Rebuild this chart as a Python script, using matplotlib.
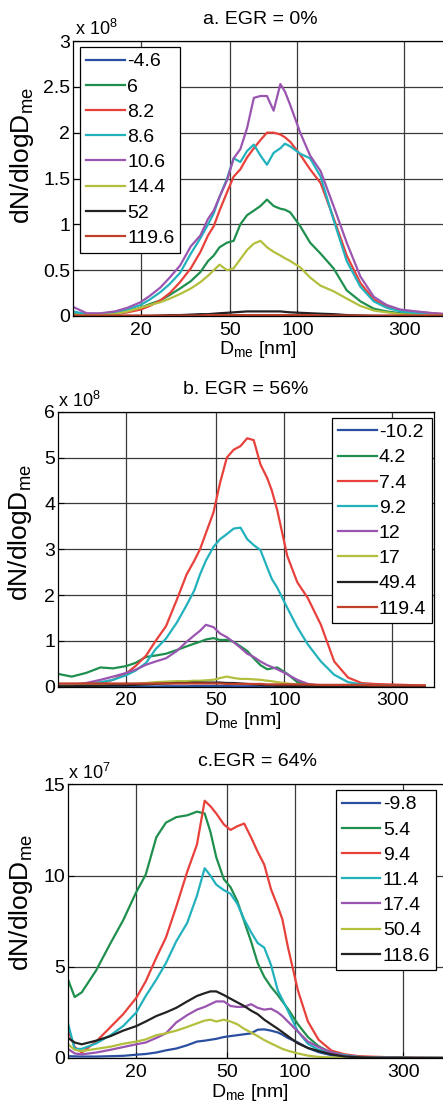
import matplotlib
matplotlib.use("Agg")
import matplotlib.pyplot as plt
from matplotlib.ticker import NullLocator

plt.rcParams['font.family'] = ['Liberation Sans', 'DejaVu Sans']
plt.rcParams['mathtext.default'] = 'regular'

# ---------------- data ----------------
diam_a = [10, 11.5, 13.3, 15.4, 17.5, 20, 22, 24.5, 27, 30, 33.5, 37, 40, 42.4, 45, 48.6, 52, 55.7,
          59.7, 64, 68.5, 73.2, 78.4, 84, 88, 93, 103, 114, 127, 145, 166, 191, 219, 250, 288, 340,
          405, 460]
labels_a = ['-4.6', '6', '8.2', '8.6', '10.6', '14.4', '52', '119.6']
a_m46 = [0.01, 0, 0, 0, 0, 0, 0, 0, 0, 0, 0, 0, 0, 0.005, 0.01, 0.01, 0.01, 0.01, 0.01, 0.01, 0.01,
         0.01, 0.01, 0.01, 0.01, 0.01, 0.01, 0.005, 0, 0, 0, 0, 0, 0, 0, 0, 0, 0]
a_6 = [0.02, 0.01, 0.01, 0.02, 0.05, 0.09, 0.13, 0.17, 0.23, 0.30, 0.38, 0.48, 0.60, 0.66, 0.75, 0.80,
       0.82, 1.00, 1.10, 1.15, 1.20, 1.27, 1.20, 1.17, 1.16, 1.13, 0.98, 0.80, 0.68, 0.52, 0.28, 0.16,
       0.08, 0.05, 0.03, 0.02, 0.01, 0.01]
a_82 = [0.01, 0.01, 0.01, 0.02, 0.04, 0.07, 0.11, 0.17, 0.25, 0.37, 0.52, 0.70, 0.88, 0.98, 1.15, 1.35,
        1.52, 1.60, 1.73, 1.83, 1.92, 2.00, 2.00, 1.98, 1.95, 1.90, 1.76, 1.60, 1.45, 1.07, 0.66, 0.36,
        0.18, 0.10, 0.06, 0.04, 0.03, 0.02]
a_86 = [0.05, 0.02, 0.02, 0.04, 0.07, 0.12, 0.18, 0.26, 0.35, 0.47, 0.68, 0.85, 1.00, 1.12, 1.30, 1.50,
        1.72, 1.68, 1.80, 1.87, 1.75, 1.65, 1.78, 1.83, 1.88, 1.85, 1.77, 1.72, 1.52, 1.05, 0.60, 0.32,
        0.16, 0.09, 0.05, 0.03, 0.02, 0.01]
a_106 = [0.10, 0.03, 0.03, 0.05, 0.09, 0.15, 0.22, 0.31, 0.42, 0.55, 0.76, 0.88, 1.06, 1.15, 1.30, 1.48,
         1.72, 1.82, 2.05, 2.38, 2.40, 2.40, 2.24, 2.53, 2.45, 2.30, 2.00, 1.75, 1.58, 1.20, 0.80, 0.43,
         0.21, 0.12, 0.07, 0.05, 0.03, 0.02]
a_144 = [0.01, 0.01, 0.01, 0.02, 0.05, 0.09, 0.12, 0.15, 0.19, 0.24, 0.30, 0.37, 0.44, 0.50, 0.56, 0.50,
         0.52, 0.62, 0.72, 0.79, 0.82, 0.75, 0.70, 0.66, 0.63, 0.60, 0.53, 0.42, 0.33, 0.27, 0.19, 0.11,
         0.06, 0.04, 0.02, 0.01, 0.01, 0.0]
a_52 = [0, 0, 0, 0, 0, 0, 0, 0.005, 0.01, 0.01, 0.015, 0.02, 0.02, 0.025, 0.03, 0.035, 0.04, 0.045,
        0.05, 0.05, 0.05, 0.05, 0.05, 0.05, 0.045, 0.04, 0.035, 0.03, 0.025, 0.02, 0.01, 0.005, 0, 0,
        0, 0, 0, 0]
a_1196 = [0.005, 0.005, 0.005, 0.005, 0.005, 0.005, 0.005, 0.005, 0.005, 0.005, 0.005, 0.005, 0.01,
          0.01, 0.01, 0.01, 0.01, 0.01, 0.01, 0.01, 0.01, 0.01, 0.01, 0.01, 0.01, 0.01, 0.01, 0.01,
          0.005, 0.005, 0.005, 0.005, 0.005, 0.005, 0.005, 0.005, 0.005, 0.005]

diam_b = [10, 11.5, 13.3, 15.4, 17.5, 20, 22, 24.5, 27, 30, 33.5, 37, 40, 42.4, 45, 48.6, 52, 55.7,
          59.7, 64, 68.5, 73.2, 78.4, 84, 88, 93, 103, 114, 127, 145, 166, 191, 219, 250, 288, 340, 417]
labels_b = ['-10.2', '4.2', '7.4', '9.2', '12', '17', '49.4', '119.4']
b_m102 = [0, 0, 0, 0, 0, 0, 0, 0.005, 0.005, 0.01, 0.01, 0.01, 0.015, 0.015, 0.015, 0.015, 0.015,
          0.015, 0.01, 0.01, 0.01, 0.01, 0.005, 0.005, 0, 0, 0, 0, 0, 0, 0, 0, 0, 0, 0, 0, 0]
b_42 = [0.28, 0.22, 0.30, 0.42, 0.40, 0.45, 0.52, 0.65, 0.68, 0.72, 0.80, 0.88, 0.94, 0.98, 1.03, 1.06,
        1.02, 1.02, 0.98, 0.88, 0.78, 0.62, 0.47, 0.38, 0.40, 0.42, 0.28, 0.10, 0.04, 0.02, 0.01, 0.01,
        0.0, 0.0, 0.0, 0.0, 0.0]
b_74 = [0.05, 0.05, 0.05, 0.07, 0.15, 0.29, 0.45, 0.68, 1.00, 1.32, 1.90, 2.45, 2.75, 3.00, 3.35, 3.80,
        4.45, 5.00, 5.17, 5.25, 5.42, 5.38, 4.85, 4.55, 4.28, 3.85, 2.85, 2.28, 1.93, 1.35, 0.55, 0.20,
        0.08, 0.06, 0.05, 0.04, 0.02]
b_92 = [0.03, 0.04, 0.06, 0.10, 0.15, 0.25, 0.35, 0.52, 0.82, 1.05, 1.40, 1.78, 2.10, 2.45, 2.75, 3.05,
        3.22, 3.33, 3.45, 3.47, 3.22, 3.09, 2.98, 2.60, 2.35, 2.16, 1.72, 1.30, 0.92, 0.55, 0.26, 0.10,
        0.05, 0.03, 0.03, 0.02, 0.01]
b_12 = [0.02, 0.04, 0.08, 0.15, 0.22, 0.30, 0.37, 0.48, 0.55, 0.62, 0.78, 0.98, 1.12, 1.22, 1.35, 1.30,
        1.16, 1.08, 0.97, 0.85, 0.72, 0.65, 0.55, 0.47, 0.43, 0.38, 0.27, 0.15, 0.06, 0.02, 0.01, 0.01,
        0.0, 0.0, 0.0, 0.0, 0.0]
b_17 = [0.02, 0.02, 0.03, 0.03, 0.04, 0.05, 0.06, 0.08, 0.10, 0.11, 0.12, 0.12, 0.13, 0.13, 0.14, 0.15,
        0.19, 0.22, 0.19, 0.17, 0.17, 0.16, 0.15, 0.13, 0.12, 0.10, 0.07, 0.05, 0.03, 0.02, 0.01, 0.01,
        0.0, 0.0, 0.0, 0.0, 0.0]
b_494 = [0.01, 0.01, 0.02, 0.02, 0.03, 0.03, 0.04, 0.05, 0.06, 0.07, 0.08, 0.08, 0.09, 0.09, 0.09, 0.09,
         0.09, 0.08, 0.08, 0.07, 0.06, 0.05, 0.04, 0.03, 0.03, 0.02, 0.02, 0.01, 0.01, 0.01, 0.0, 0.0,
         0.0, 0.0, 0.0, 0.0, 0.0]
b_1194 = [0.07, 0.07, 0.07, 0.07, 0.07, 0.07, 0.07, 0.07, 0.07, 0.07, 0.07, 0.07, 0.07, 0.07, 0.07,
          0.07, 0.07, 0.06, 0.06, 0.06, 0.06, 0.06, 0.06, 0.05, 0.05, 0.05, 0.05, 0.05, 0.05, 0.04,
          0.04, 0.04, 0.04, 0.03, 0.03, 0.03, 0.03]

diam_c = [10, 10.7, 11.5, 13.3, 15.4, 17.5, 20, 22, 24.5, 27, 30, 33.5, 37, 40, 42.4, 45, 48.6, 52,
          55.7, 59.7, 64, 68.5, 73.2, 78.4, 84, 88, 93, 103, 114, 127, 145, 166, 191, 219, 250, 288,
          340, 405, 460]
labels_c = ['-9.8', '5.4', '9.4', '11.4', '17.4', '50.4', '118.6']
c_m98 = [0.10, 0.09, 0.08, 0.08, 0.10, 0.12, 0.18, 0.22, 0.30, 0.42, 0.52, 0.70, 0.90, 0.95, 1.00, 1.05,
         1.15, 1.20, 1.25, 1.30, 1.35, 1.55, 1.57, 1.50, 1.40, 1.28, 1.10, 0.85, 0.55, 0.32, 0.15, 0.06,
         0.03, 0.02, 0.01, 0.01, 0.0, 0.0, 0.0]
c_54 = [4.30, 3.34, 3.60, 4.80, 6.30, 7.55, 9.10, 10.05, 12.10, 12.90, 13.20, 13.30, 13.50, 13.40,
        12.40, 11.00, 9.80, 9.36, 8.60, 7.50, 6.40, 5.20, 4.45, 3.90, 3.45, 3.10, 2.70, 1.85, 1.15,
        0.65, 0.28, 0.12, 0.06, 0.04, 0.03, 0.02, 0.01, 0.01, 0.0]
c_94 = [1.55, 0.60, 0.30, 0.90, 1.70, 2.40, 3.30, 4.20, 5.50, 6.60, 8.30, 10.20, 11.70, 14.10, 13.80,
        13.40, 12.80, 12.50, 12.70, 12.85, 12.10, 11.30, 10.60, 9.25, 8.30, 7.60, 6.10, 3.70, 2.00,
        1.00, 0.40, 0.20, 0.10, 0.07, 0.05, 0.03, 0.02, 0.01, 0.01]
c_114 = [1.90, 0.50, 0.50, 0.80, 1.25, 1.75, 2.50, 3.40, 4.30, 5.20, 6.40, 7.40, 8.90, 10.40, 10.00,
         9.50, 9.20, 9.00, 8.45, 7.60, 6.90, 6.30, 6.05, 5.10, 3.70, 3.20, 2.60, 1.45, 0.78, 0.45,
         0.30, 0.15, 0.06, 0.04, 0.03, 0.02, 0.01, 0.01, 0.0]
c_174 = [0.50, 0.25, 0.20, 0.30, 0.45, 0.60, 0.75, 0.85, 1.10, 1.35, 1.95, 2.35, 2.65, 2.80, 2.95, 3.10,
         3.10, 2.85, 2.80, 2.80, 2.95, 2.75, 2.65, 2.70, 2.50, 2.30, 2.00, 1.45, 0.90, 0.60, 0.30, 0.10,
         0.05, 0.03, 0.02, 0.01, 0.01, 0.0, 0.0]
c_504 = [0.75, 0.45, 0.38, 0.50, 0.62, 0.78, 0.90, 1.02, 1.25, 1.35, 1.50, 1.70, 1.90, 2.05, 2.10, 2.00,
         2.10, 2.00, 1.85, 1.60, 1.40, 1.20, 0.98, 0.80, 0.62, 0.50, 0.40, 0.25, 0.13, 0.06, 0.03, 0.02,
         0.01, 0.01, 0.0, 0.0, 0.0, 0.0, 0.0]
c_1186 = [1.10, 0.85, 0.75, 0.95, 1.20, 1.50, 1.75, 2.00, 2.30, 2.50, 2.75, 3.10, 3.40, 3.55, 3.65,
          3.65, 3.45, 3.25, 3.05, 2.85, 2.60, 2.40, 2.10, 1.85, 1.60, 1.42, 1.20, 0.80, 0.55, 0.38,
          0.20, 0.08, 0.04, 0.02, 0.01, 0.01, 0.0, 0.0, 0.0]

xticks = [20, 50, 100, 300]
xtick_labels = ['20', '50', '100', '300']
yticks_a = [0, 0.5, 1, 1.5, 2, 2.5, 3]
ytick_labels_a = ['0', '0.5', '1', '1.5', '2', '2.5', '3']
yticks_b = [0, 1, 2, 3, 4, 5, 6]
ytick_labels_b = ['0', '1', '2', '3', '4', '5', '6']
yticks_c = [0, 5, 10, 15]
ytick_labels_c = ['0', '5', '10', '15']

colors8 = ['#2a4fa0', '#1f8f4e', '#e8413c', '#22b2bd', '#9a55b0', '#b3bf3d', '#222222', '#c0402c']
colors7 = ['#2a4fa0', '#1f8f4e', '#e8413c', '#22b2bd', '#9a55b0', '#b3bf3d', '#222222']

# ---------------- figure ----------------
W, H = 443, 1110
fig = plt.figure(figsize=(W / 100, H / 100), dpi=100)
FS = 14


def add_axes(left, top, width, height):
    return fig.add_axes([left / W, 1 - (top + height) / H, width / W, height / H])


def ftext(x, y, s, **kw):
    fig.text(x / W, 1 - y / H, s, **kw)


def style(ax, yticks, ylabels, ymax):
    ax.set_xscale('log')
    ax.set_xlim(10, 458)
    ax.set_ylim(0, ymax)
    ax.set_xticks(xticks)
    ax.set_xticklabels(xtick_labels)
    ax.xaxis.set_minor_locator(NullLocator())
    ax.set_yticks(yticks)
    ax.set_yticklabels(ylabels)
    ax.tick_params(direction='in', length=4, width=0.8, labelsize=FS, colors='k')
    ax.tick_params(axis='x', pad=4)
    ax.tick_params(axis='y', pad=2)
    ax.grid(True, color='#3a3a3a', lw=0.9)
    ax.set_axisbelow(True)
    for sp in ax.spines.values():
        sp.set_linewidth(0.9)
        sp.set_color('k')


def legend(ax, loc, anchor):
    lg = ax.legend(loc=loc, bbox_to_anchor=anchor, borderaxespad=0, frameon=True, fancybox=False,
                   edgecolor='k', framealpha=1, fontsize=FS, handlelength=2.0, handletextpad=0.12,
                   labelspacing=0.39, borderpad=0.3)
    lg.get_frame().set_linewidth(0.9)


# panel a
ax_a = add_axes(73, 41, 372.6, 275)
for vals, lab, col in zip([a_m46, a_6, a_82, a_86, a_106, a_144, a_52, a_1196], labels_a, colors8):
    ax_a.plot(diam_a, vals, color=col, lw=1.6, label=lab)
style(ax_a, yticks_a, ytick_labels_a, 3)
legend(ax_a, 'upper left', (0.019, 0.978))
ftext(260, 20, 'a. EGR = 0%', ha='center', va='center', fontsize=FS)
ftext(75, 35, 'x 10$^8$', ha='left', va='baseline', fontsize=13)
ftext(258, 354, 'D$_{me}$ [nm]', ha='center', va='baseline', fontsize=FS)
ftext(22, 155, 'dN/dlogD$_{me}$', ha='center', va='center', rotation=90, fontsize=19)

# panel b
ax_b = add_axes(58, 411.7, 376, 275)
for vals, lab, col in zip([b_m102, b_42, b_74, b_92, b_12, b_17, b_494, b_1194], labels_b, colors8):
    ax_b.plot(diam_b, vals, color=col, lw=1.6, label=lab)
style(ax_b, yticks_b, ytick_labels_b, 6)
legend(ax_b, 'upper right', (0.995, 0.978))
ftext(246, 390, 'b. EGR = 56%', ha='center', va='center', fontsize=FS)
ftext(58, 406.7, 'x 10$^8$', ha='left', va='baseline', fontsize=13)
ftext(243, 725, 'D$_{me}$ [nm]', ha='center', va='baseline', fontsize=FS)
ftext(20, 532, 'dN/dlogD$_{me}$', ha='center', va='center', rotation=90, fontsize=19)

# panel c
ax_c = add_axes(68, 784.3, 377, 273.7)
for vals, lab, col in zip([c_m98, c_54, c_94, c_114, c_174, c_504, c_1186], labels_c, colors7):
    ax_c.plot(diam_c, vals, color=col, lw=1.6, label=lab)
style(ax_c, yticks_c, ytick_labels_c, 15)
legend(ax_c, 'upper right', (0.976, 0.979))
ftext(257, 762, 'c.EGR = 64%', ha='center', va='center', fontsize=FS)
ftext(68, 779, 'x 10$^7$', ha='left', va='baseline', fontsize=13)
ftext(250, 1097, 'D$_{me}$ [nm]', ha='center', va='baseline', fontsize=FS)
ftext(21, 902, 'dN/dlogD$_{me}$', ha='center', va='center', rotation=90, fontsize=19)

fig.savefig('out.png', dpi=100)
